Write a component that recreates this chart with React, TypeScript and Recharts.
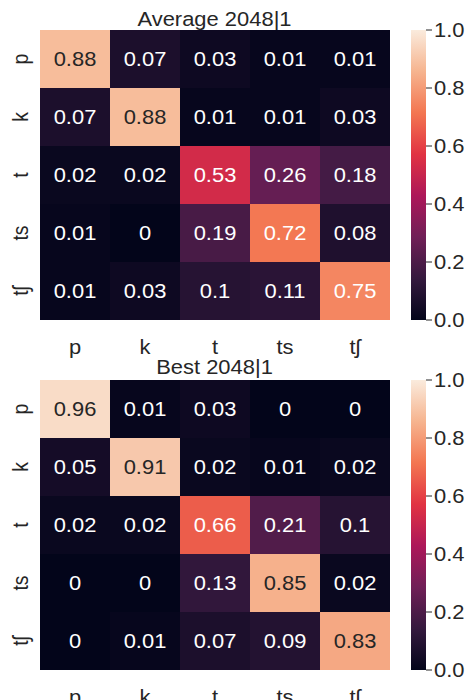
import React from "react";
import { BarChart, Bar, XAxis, YAxis, LabelList, Cell } from "recharts";

const rowLabels = ["p", "k", "t", "ts", "tʃ"];
const colLabels = ["p", "k", "t", "ts", "tʃ"];
const colorbarTicks = [0, 0.2, 0.4, 0.6, 0.8, 1.0];

const averageValues = [
  [0.88, 0.07, 0.03, 0.01, 0.01],
  [0.07, 0.88, 0.01, 0.01, 0.03],
  [0.02, 0.02, 0.53, 0.26, 0.18],
  [0.01, 0, 0.19, 0.72, 0.08],
  [0.01, 0.03, 0.1, 0.11, 0.75],
];

const bestValues = [
  [0.96, 0.01, 0.03, 0, 0],
  [0.05, 0.91, 0.02, 0.01, 0.02],
  [0.02, 0.02, 0.66, 0.21, 0.1],
  [0, 0, 0.13, 0.85, 0.02],
  [0, 0.01, 0.07, 0.09, 0.83],
];

const titles = ["Average 2048|1", "Best 2048|1"];

// rocket colormap stops
const rocketStops: [number, number[]][] = [
  [0, [3, 5, 26]],
  [1 / 7, [53, 25, 62]],
  [2 / 7, [112, 31, 87]],
  [3 / 7, [173, 23, 89]],
  [4 / 7, [225, 51, 66]],
  [5 / 7, [243, 118, 81]],
  [6 / 7, [246, 180, 143]],
  [1, [250, 235, 221]],
];

function rocket(v: number): string {
  const t = Math.max(0, Math.min(1, v));
  for (let i = 0; i < rocketStops.length - 1; i++) {
    const [a, ca] = rocketStops[i];
    const [b, cb] = rocketStops[i + 1];
    if (t <= b) {
      const f = (t - a) / (b - a);
      const c = ca.map((x, k) => Math.round(x + (cb[k] - x) * f));
      return `rgb(${c[0]},${c[1]},${c[2]})`;
    }
  }
  return "rgb(250,235,221)";
}

const FONT = "'Liberation Sans', Arial, sans-serif";
const TXT = "#262626";
const FS = 19.5;
const SX = 1.125;

function T({ x, y, anchor = "middle", rot = false, fill = TXT, dy, children }: any) {
  const tf = `translate(${x}, ${y}) scale(${SX}, 1)${rot ? " rotate(-90)" : ""}`;
  return (
    <text
      x={0}
      y={0}
      dy={dy}
      transform={tf}
      textAnchor={anchor}
      fill={fill}
      fontSize={FS}
      fontFamily={FONT}
    >
      {children}
    </text>
  );
}

function buildRows(values: number[][]) {
  return rowLabels.map((r, i) => {
    const o: any = { row: r };
    values[i].forEach((v, j) => {
      o["c" + j] = 1;
      o["v" + j] = v;
    });
    return o;
  });
}

const YTick = (props: any) => {
  const { y, payload } = props;
  return (
    <T x={28} y={y} rot>
      {payload.value}
    </T>
  );
};

const XTick = (props: any) => {
  const { x, y, payload } = props;
  const idx = Math.floor(payload.value);
  return (
    <T x={x} y={y + 25.5}>
      {colLabels[idx]}
    </T>
  );
};

const CTick = (props: any) => {
  const { x, y, payload } = props;
  return (
    <T x={x} y={y} anchor="start" dy="0.36em">
      {Number(payload.value).toFixed(1)}
    </T>
  );
};

function Heatmap({ values }: { values: number[][] }) {
  const data = buildRows(values);
  return (
    <BarChart
      width={400}
      height={360}
      data={data}
      layout="vertical"
      barCategoryGap={0}
      margin={{ top: 30, right: 10, bottom: 10, left: 10 }}
    >
      <XAxis
        type="number"
        domain={[0, 5]}
        ticks={[0.5, 1.5, 2.5, 3.5, 4.5]}
        axisLine={false}
        tickLine={false}
        height={30}
        tick={<XTick />}
        interval={0}
      />
      <YAxis
        type="category"
        dataKey="row"
        width={30}
        axisLine={false}
        tickLine={false}
        tick={<YTick />}
        interval={0}
      />
      {colLabels.map((_, j) => (
        <Bar key={j} dataKey={"c" + j} stackId="a" stroke="none" isAnimationActive={false}>
          {data.map((d, i) => (
            <Cell key={i} fill={rocket(d["v" + j])} stroke="none" />
          ))}
          <LabelList
            dataKey={"v" + j}
            content={(p: any) => {
              const v = Number(p.value);
              return (
                <T
                  x={p.x + p.width / 2}
                  y={p.y + p.height / 2}
                  dy="0.36em"
                  fill={v > 0.8 ? TXT : "#ffffff"}
                >
                  {String(v)}
                </T>
              );
            }}
          />
        </Bar>
      ))}
    </BarChart>
  );
}

function Colorbar({ id }: { id: string }) {
  return (
    <BarChart
      width={67}
      height={360}
      data={[{ v: 1 }]}
      barCategoryGap={0}
      margin={{ top: 30, right: 0, bottom: 40, left: 11 }}
    >
      <defs>
        <linearGradient id={id} x1="0" y1="1" x2="0" y2="0">
          {rocketStops.map(([o, c], i) => (
            <stop key={i} offset={o} stopColor={`rgb(${c[0]},${c[1]},${c[2]})`} />
          ))}
        </linearGradient>
      </defs>
      <XAxis type="category" hide />
      <YAxis
        orientation="right"
        type="number"
        domain={[0, 1]}
        ticks={colorbarTicks}
        width={41}
        axisLine={false}
        tickSize={6}
        tickMargin={2}
        tickLine={{ stroke: TXT }}
        tick={<CTick />}
        interval={0}
      />
      <Bar dataKey="v" fill={`url(#${id})`} isAnimationActive={false} />
    </BarChart>
  );
}

export default function App() {
  return (
    <div style={{ position: "absolute", left: 0, top: 0, width: 467, height: 700, background: "#fff" }}>
      <div style={{ position: "absolute", left: 0, top: 0 }}>
        <Heatmap values={averageValues} />
      </div>
      <div style={{ position: "absolute", left: 400, top: 0 }}>
        <Colorbar id="grad1" />
      </div>
      <div style={{ position: "absolute", left: 0, top: 350 }}>
        <Heatmap values={bestValues} />
      </div>
      <div style={{ position: "absolute", left: 400, top: 350 }}>
        <Colorbar id="grad2" />
      </div>
      <svg style={{ position: "absolute", left: 0, top: 0, pointerEvents: "none" }} width={467} height={700}>
        <T x={214.5} y={25.5}>
          {titles[0]}
        </T>
        <T x={214.5} y={373.5}>
          {titles[1]}
        </T>
      </svg>
    </div>
  );
}
